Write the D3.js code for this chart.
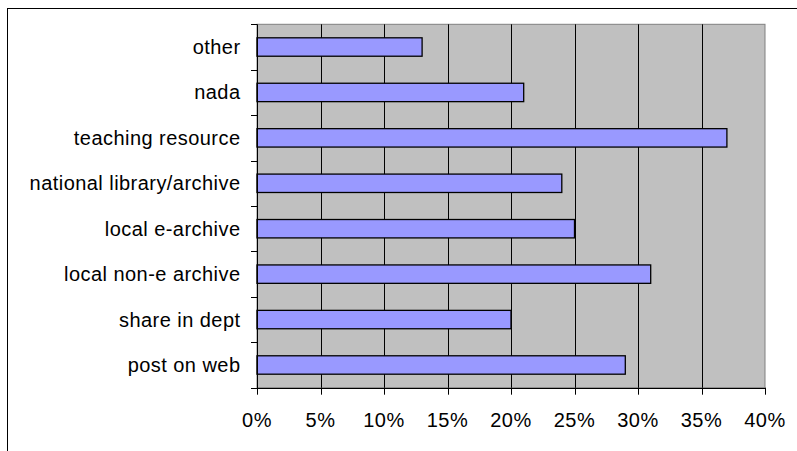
<!DOCTYPE html>
<html>
<head>
<meta charset="utf-8">
<script src="https://cdn.jsdelivr.net/npm/d3@7/dist/d3.min.js"></script>
<style>
  html, body { margin: 0; padding: 0; background: #fff; }
  svg { display: block; }
  text { font-family: "Liberation Sans", Arial, sans-serif; fill: #000; letter-spacing: 0.45px; }
</style>
</head>
<body>
<svg id="chart" width="797" height="451"></svg>
<script>
const categories = ["other", "nada", "teaching resource", "national library/archive",
  "local e-archive", "local non-e archive", "share in dept", "post on web"];
const values = [13, 21, 37, 24, 25, 31, 20, 29];
const xTicks = [0, 5, 10, 15, 20, 25, 30, 35, 40];
const xTickLabels = ["0%", "5%", "10%", "15%", "20%", "25%", "30%", "35%", "40%"];

const svg = d3.select("#chart");
const pLeft = 257, pRight = 765, pTop = 24.3, pBottom = 387.7;

// outer chart-area border (extends beyond window)
svg.append("rect")
  .attr("x", 7.5).attr("y", 8.5).attr("width", 820).attr("height", 460)
  .attr("fill", "#fff").attr("stroke", "#000").attr("stroke-width", 1);

const x = d3.scaleLinear().domain([0, 40]).range([pLeft, pRight]);
const y = d3.scaleBand().domain(categories).range([pTop, pBottom]).padding(0);

// plot area
svg.append("rect")
  .attr("x", pLeft).attr("y", pTop).attr("width", pRight - pLeft).attr("height", pBottom - pTop)
  .attr("fill", "#C0C0C0").attr("stroke", "#808080").attr("stroke-width", 1);

// vertical gridlines
svg.append("g").selectAll("line").data(xTicks.slice(1, -1)).join("line")
  .attr("x1", d => Math.round(x(d)) + 0.5).attr("x2", d => Math.round(x(d)) + 0.5)
  .attr("y1", pTop).attr("y2", pBottom)
  .attr("stroke", "#000").attr("stroke-width", 1);

// bars
const bh = y.bandwidth() * 0.405;
svg.append("g").selectAll("rect").data(categories).join("rect")
  .attr("x", x(0))
  .attr("y", d => y(d) + y.bandwidth() / 2 - bh / 2)
  .attr("width", (d, i) => x(values[i]) - x(0))
  .attr("height", bh)
  .attr("fill", "#9999FF").attr("stroke", "#000").attr("stroke-width", 1.3);

// y axis line
svg.append("line").attr("x1", pLeft + 0.5).attr("x2", pLeft + 0.5)
  .attr("y1", pTop).attr("y2", pBottom + 0.5).attr("stroke", "#000");
// y ticks at band boundaries
const bounds = categories.map(c => y(c)).concat([pBottom]);
svg.append("g").selectAll("line").data(bounds).join("line")
  .attr("x1", pLeft - 6).attr("x2", pLeft)
  .attr("y1", d => Math.round(d) + 0.5).attr("y2", d => Math.round(d) + 0.5)
  .attr("stroke", "#000");
// y labels
svg.append("g").selectAll("text").data(categories).join("text")
  .attr("x", 240.5)
  .attr("y", d => y(d) + y.bandwidth() / 2)
  .attr("dy", "0.35em")
  .attr("text-anchor", "end")
  .attr("font-size", "20px")
  .text(d => d);

// x axis
svg.append("line").attr("x1", pLeft).attr("x2", pRight + 0.5)
  .attr("y1", Math.round(pBottom) + 0.5).attr("y2", Math.round(pBottom) + 0.5).attr("stroke", "#000");
svg.append("g").selectAll("line").data(xTicks).join("line")
  .attr("x1", d => Math.round(x(d)) + 0.5).attr("x2", d => Math.round(x(d)) + 0.5)
  .attr("y1", pBottom).attr("y2", pBottom + 7)
  .attr("stroke", "#000");
svg.append("g").selectAll("text").data(xTicks).join("text")
  .attr("x", d => x(d))
  .attr("y", 420)
  .attr("dy", "0.35em")
  .attr("text-anchor", "middle")
  .attr("font-size", "20px")
  .text((d, i) => xTickLabels[i]);
</script>
</body>
</html>
